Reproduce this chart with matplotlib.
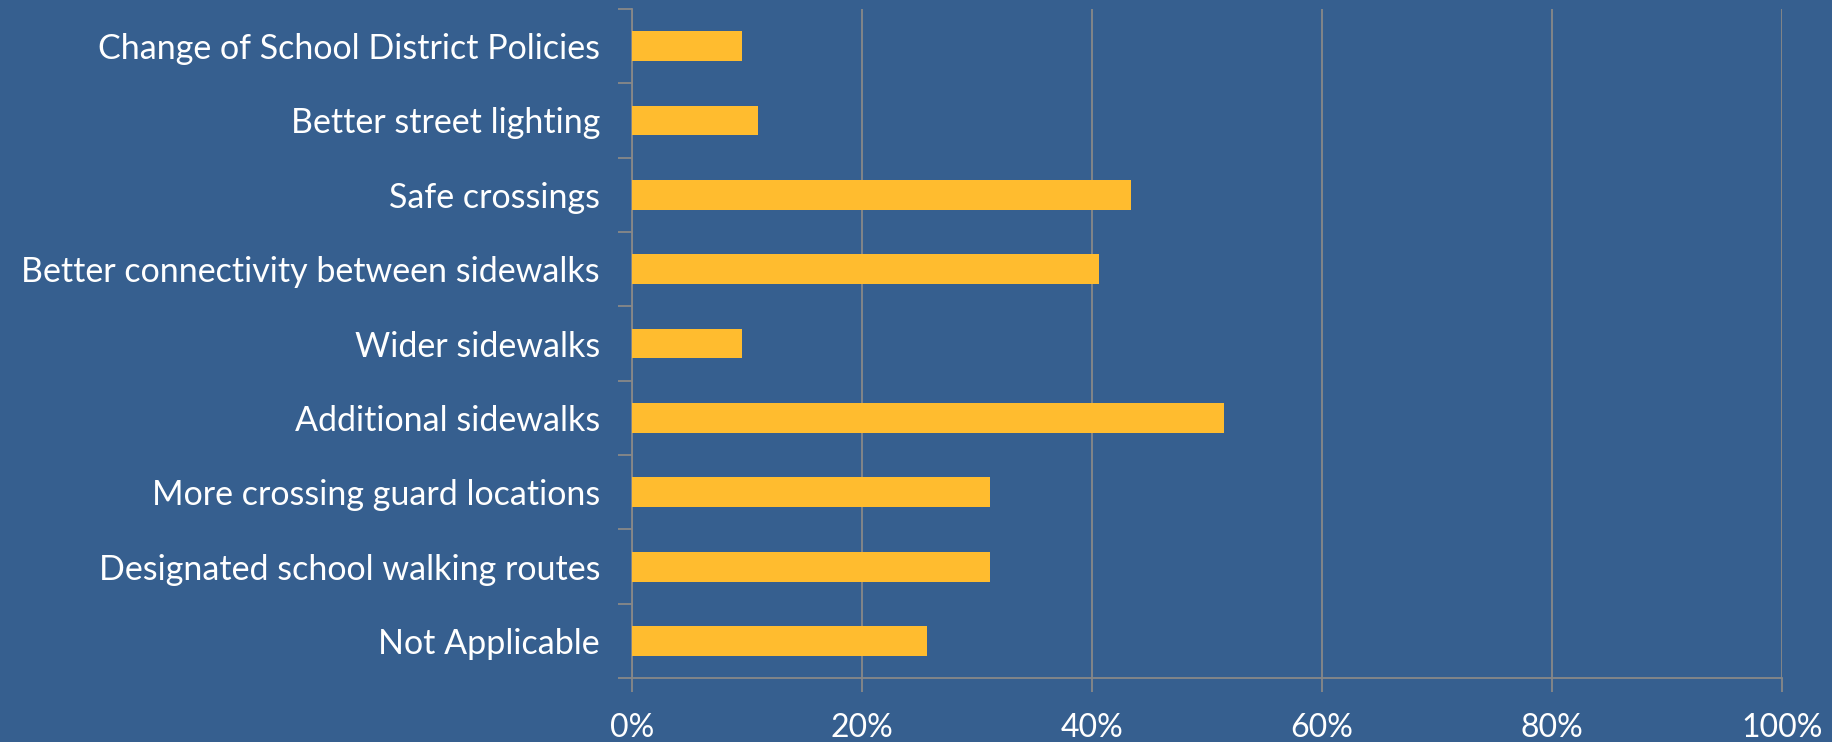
import matplotlib.pyplot as plt
import numpy as np
from matplotlib.ticker import FuncFormatter, FixedLocator

# survey answers, top to bottom as shown
categories = [
    "Change of School District Policies",
    "Better street lighting",
    "Safe crossings",
    "Better connectivity between sidewalks",
    "Wider sidewalks",
    "Additional sidewalks",
    "More crossing guard locations",
    "Designated school walking routes",
    "Not Applicable",
]
shares = [9.6, 11.0, 43.4, 40.6, 9.6, 51.5, 31.1, 31.1, 25.7]
x_ticks = [0, 20, 40, 60, 80, 100]

bg = "#365F8F"
bar_color = "#FFBC2F"
line_color = "#888888"

plt.rcParams['font.family'] = ['Lato', 'DejaVu Sans']

fig = plt.figure(figsize=(18.32, 7.42), dpi=100, facecolor=bg)
ax = fig.add_axes([0.345, 0.086, 0.6275, 0.902])
ax.set_facecolor(bg)

y = np.arange(len(categories))
ax.barh(y, shares, height=0.4, color=bar_color, zorder=3)

ax.set_xlim(0, 100)
ax.set_ylim(len(categories) - 0.5, -0.5)

ax.set_xticks(x_ticks)
ax.xaxis.set_major_formatter(FuncFormatter(lambda v, p: f"{v:.0f}%"))
ax.set_yticks(y)
ax.set_yticklabels(categories)
ax.yaxis.set_minor_locator(FixedLocator(np.arange(-0.5, len(categories), 1)))

ax.tick_params(axis='y', which='major', length=0, pad=23, labelsize=24.5, labelcolor='white')
ax.tick_params(axis='y', which='minor', length=10, color=line_color, width=1.3)
ax.tick_params(axis='x', which='major', length=10, color=line_color, width=1.3,
               pad=15, labelsize=23, labelcolor='white')

ax.grid(axis='x', color=line_color, linewidth=1.3, zorder=1)
for side in ['top', 'right']:
    ax.spines[side].set_visible(False)
for side in ['left', 'bottom']:
    ax.spines[side].set_color(line_color)
    ax.spines[side].set_linewidth(1.3)

plt.savefig("out.png", facecolor=bg)
plt.close()
